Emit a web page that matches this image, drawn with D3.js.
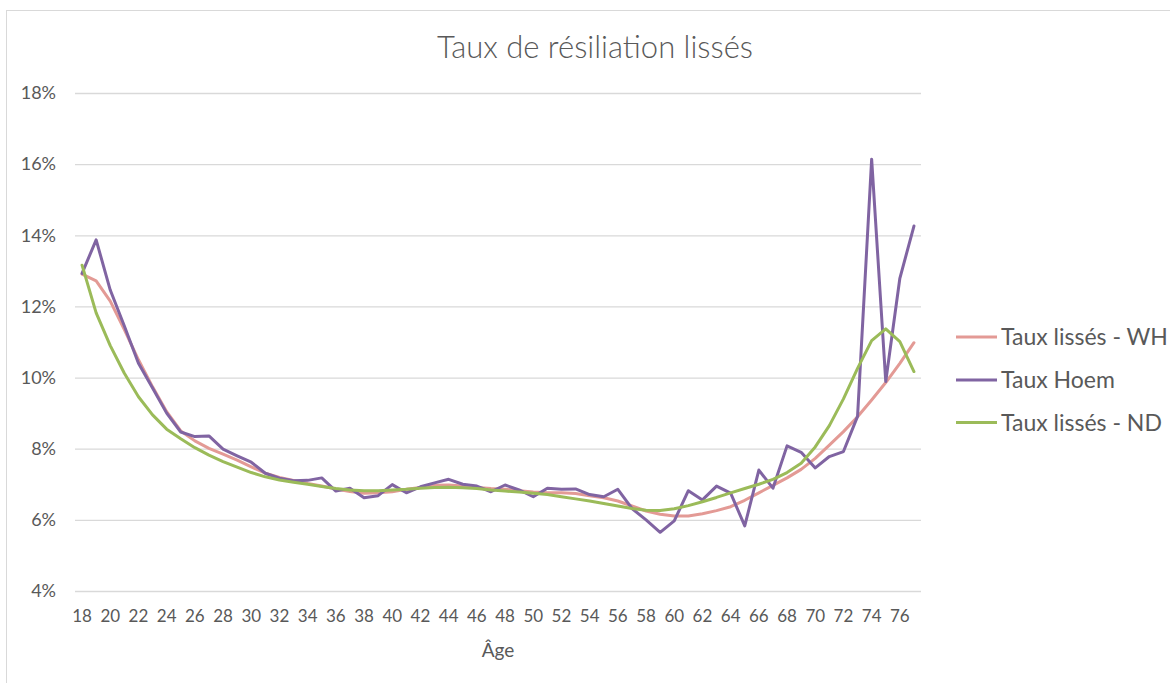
<!DOCTYPE html>
<html lang="fr">
<head>
<meta charset="utf-8">
<title>Taux de résiliation lissés</title>
<script src="https://cdn.jsdelivr.net/npm/d3@7"></script>
<style>
  html, body { margin: 0; padding: 0; background: #ffffff; }
  svg { display: block; font-family: Lato, "Open Sans", sans-serif; }
</style>
</head>
<body>
<svg id="chart" width="1170" height="683"></svg>
<script>
// Âges (axe des catégories)
const ages = d3.range(18, 78);

// Taux lissés par Whittaker-Henderson (%)
const tauxWH = [
  12.91, 12.72, 12.15, 11.35, 10.50, 9.74, 9.04, 8.50, 8.22, 8.01,
  7.85, 7.68, 7.49, 7.31, 7.19, 7.11, 7.02, 6.95, 6.87, 6.80,
  6.75, 6.76, 6.79, 6.86, 6.91, 6.97, 6.98, 6.95, 6.91, 6.88,
  6.86, 6.82, 6.78, 6.76, 6.76, 6.74, 6.68, 6.62, 6.53, 6.39,
  6.25, 6.16, 6.11, 6.11, 6.17, 6.26, 6.37, 6.55, 6.76, 6.97,
  7.18, 7.42, 7.73, 8.10, 8.48, 8.90, 9.37, 9.86, 10.40, 10.98
];

// Taux bruts estimés par Hoem (%)
const tauxHoem = [
  12.93, 13.87, 12.46, 11.45, 10.40, 9.71, 9.00, 8.47, 8.34, 8.36,
  7.99, 7.80, 7.62, 7.31, 7.17, 7.10, 7.11, 7.18, 6.81, 6.89,
  6.62, 6.68, 6.99, 6.76, 6.93, 7.04, 7.14, 7.00, 6.95, 6.79,
  6.98, 6.84, 6.65, 6.89, 6.86, 6.87, 6.71, 6.65, 6.86, 6.32,
  6.00, 5.65, 5.97, 6.82, 6.56, 6.95, 6.75, 5.83, 7.40, 6.89,
  8.08, 7.90, 7.46, 7.78, 7.92, 8.91, 16.14, 9.89, 12.79, 14.26
];

// Taux lissés par noyau discret (%)
const tauxND = [
  13.16, 11.82, 10.90, 10.12, 9.46, 8.95, 8.55, 8.28, 8.03, 7.82,
  7.64, 7.48, 7.33, 7.21, 7.12, 7.06, 7.00, 6.94, 6.88, 6.84,
  6.82, 6.82, 6.84, 6.86, 6.89, 6.91, 6.92, 6.90, 6.88, 6.84,
  6.81, 6.78, 6.75, 6.71, 6.65, 6.59, 6.53, 6.46, 6.39, 6.32,
  6.27, 6.26, 6.31, 6.40, 6.51, 6.63, 6.76, 6.88, 7.00, 7.14,
  7.33, 7.59, 8.05, 8.65, 9.40, 10.26, 11.04, 11.37, 11.01, 10.17
];

// Graduations
const yTicks = [4, 6, 8, 10, 12, 14, 16, 18];
const xTickLabels = ages.filter(a => a % 2 === 0);

const seriesNames = ["Taux lissés - WH", "Taux Hoem", "Taux lissés - ND"];
const seriesColors = ["#e39a95", "#8064a2", "#9bbb59"];
const seriesValues = [tauxWH, tauxHoem, tauxND];

const textColor = "#595959";
const gridColor = "#d9d9d9";

const svg = d3.select("#chart");

// Cadre de la zone de graphique
svg.append("rect")
  .attr("x", 6.5).attr("y", 10.5)
  .attr("width", 1300).attr("height", 800)
  .attr("fill", "#ffffff")
  .attr("stroke", gridColor)
  .attr("stroke-width", 1);

const plot = { left: 75, right: 921, top: 93, bottom: 591 };

const x = d3.scaleBand()
  .domain(ages)
  .range([plot.left, plot.right])
  .padding(0);
const xc = a => x(a) + x.bandwidth() / 2;

const y = d3.scaleLinear()
  .domain([4, 18])
  .range([plot.bottom, plot.top]);

// Titre
svg.append("text")
  .attr("x", 595).attr("y", 58)
  .attr("text-anchor", "middle")
  .attr("fill", textColor)
  .attr("font-size", 31)
  .attr("font-weight", 300)
  .text("Taux de résiliation lissés");

// Quadrillage horizontal
svg.append("g")
  .selectAll("line")
  .data(yTicks)
  .join("line")
  .attr("x1", plot.left).attr("x2", plot.right)
  .attr("y1", d => y(d) + 0.5).attr("y2", d => y(d) + 0.5)
  .attr("stroke", gridColor)
  .attr("stroke-width", 1.3);

// Axe vertical
const yAxis = svg.append("g")
  .attr("transform", "translate(56,0)")
  .call(d3.axisLeft(y).tickValues(yTicks).tickFormat(d => d + "%").tickSize(0).tickPadding(0));
yAxis.select(".domain").remove();
yAxis.selectAll("text")
  .attr("fill", textColor)
  .attr("font-size", 18)
  .attr("font-family", "Lato, 'Open Sans', sans-serif");

// Axe horizontal
const xAxis = svg.append("g")
  .attr("transform", `translate(0,${plot.bottom})`)
  .call(d3.axisBottom(x).tickValues(xTickLabels).tickSize(0).tickPadding(19));
xAxis.select(".domain").remove();
xAxis.selectAll("text")
  .attr("fill", textColor)
  .attr("font-size", 17)
  .attr("font-family", "Lato, 'Open Sans', sans-serif");

// Titre de l'axe horizontal
svg.append("text")
  .attr("x", (plot.left + plot.right) / 2).attr("y", 657)
  .attr("text-anchor", "middle")
  .attr("fill", textColor)
  .attr("font-size", 19)
  .text("Âge");

// Courbes
const line = d3.line()
  .x((d, i) => xc(ages[i]))
  .y(d => y(d));

svg.append("g")
  .selectAll("path")
  .data(seriesValues)
  .join("path")
  .attr("d", d => line(d))
  .attr("fill", "none")
  .attr("stroke", (d, i) => seriesColors[i])
  .attr("stroke-width", 3)
  .attr("stroke-linejoin", "round")
  .attr("stroke-linecap", "round");

// Légende
const legendY = [337, 380, 422.5];
const legend = svg.append("g")
  .selectAll("g")
  .data(seriesNames)
  .join("g")
  .attr("transform", (d, i) => `translate(956,${legendY[i]})`);
legend.append("line")
  .attr("x1", 0).attr("x2", 41)
  .attr("stroke", (d, i) => seriesColors[i])
  .attr("stroke-width", 3);
legend.append("text")
  .attr("x", 45).attr("y", 0)
  .attr("dy", "0.35em")
  .attr("fill", textColor)
  .attr("font-size", 23)
  .text(d => d);
</script>
</body>
</html>
